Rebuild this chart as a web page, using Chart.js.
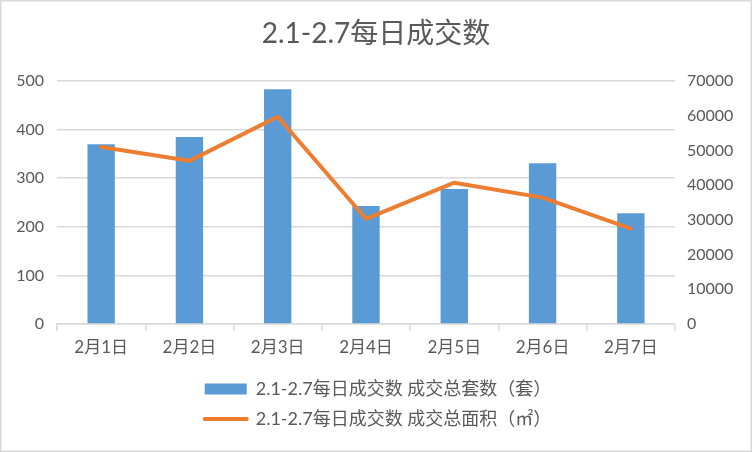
<!DOCTYPE html>
<html>
<head>
<meta charset="utf-8">
<script src="https://cdn.jsdelivr.net/npm/chart.js@4/dist/chart.umd.min.js"></script>
<style>
  html, body { margin: 0; padding: 0; background: #fff; }
  #wrap { width: 752px; height: 452px; position: relative; }
</style>
</head>
<body>
<div id="wrap"><canvas id="c" width="752" height="452"></canvas></div>
<script>
const titleText = '2.1-2.7每日成交数';
const categories = ['2月1日', '2月2日', '2月3日', '2月4日', '2月5日', '2月6日', '2月7日'];
const seriesCountName = '2.1-2.7每日成交数 成交总套数（套）';
const seriesAreaName = '2.1-2.7每日成交数 成交总面积（㎡）';
const countValues = [370, 385, 483, 243, 278, 331, 228];
const areaValues = [51000, 47000, 59700, 30300, 40700, 36400, 27500];
const leftTicks = [0, 100, 200, 300, 400, 500];
const rightTicks = [0, 10000, 20000, 30000, 40000, 50000, 60000, 70000];

const FONT = "Lato, 'Noto Sans CJK SC', sans-serif";
const TEXT = '#595959';
const GRID = '#d9d9d9';
const BLUE = '#5b9bd5';
const ORANGE = '#ed7d31';

const borderPlugin = {
  id: 'outerBorder',
  afterDraw(chart) {
    const ctx = chart.ctx;
    ctx.save();
    ctx.strokeStyle = '#d9d9d9';
    ctx.lineWidth = 1.5;
    ctx.strokeRect(0.75, 0.75, chart.width - 1.5, chart.height - 1.5);
    ctx.restore();
  },
  beforeDraw(chart) {
    const ctx = chart.ctx;
    ctx.save();
    ctx.fillStyle = '#fff';
    ctx.fillRect(0, 0, chart.width, chart.height);
    ctx.restore();
  }
};

const legendShift = {
  id: 'legendShift',
  afterLayout(chart) {
    if (chart.legend) {
      chart.legend.left += 12;
      chart.legend.right += 12;
    }
  }
};

new Chart(document.getElementById('c'), {
  type: 'bar',
  data: {
    labels: categories,
    datasets: [
      {
        type: 'bar',
        label: seriesCountName,
        data: countValues,
        backgroundColor: BLUE,
        borderWidth: 0,
        yAxisID: 'y',
        order: 2,
        barPercentage: 0.31,
        categoryPercentage: 1
      },
      {
        type: 'line',
        label: seriesAreaName,
        data: areaValues,
        borderColor: ORANGE,
        backgroundColor: ORANGE,
        borderWidth: 4,
        borderCapStyle: 'round',
        borderJoinStyle: 'round',
        pointRadius: 0,
        pointHoverRadius: 0,
        tension: 0,
        yAxisID: 'y1',
        order: 1
      }
    ]
  },
  options: {
    responsive: false,
    animation: false,
    devicePixelRatio: 1,
    layout: { padding: { left: 0, right: 0, top: 0, bottom: 14 } },
    plugins: {
      tooltip: { enabled: false },
      title: {
        display: true,
        text: titleText,
        color: TEXT,
        font: { family: FONT, size: 28, weight: 'normal' },
        padding: { top: 17, bottom: 30.4 }
      },
      legend: {
        display: true,
        position: 'bottom',
        fullSize: false,
        labels: {
          color: TEXT,
          font: { family: FONT, size: 18 },
          usePointStyle: true,
          pointStyleWidth: 42,
          boxHeight: 11,
          padding: 12,
          generateLabels(chart) {
            return chart.data.datasets.map((ds, i) => ({
              text: ds.label,
              fillStyle: ds.type === 'line' ? ORANGE : BLUE,
              strokeStyle: ds.type === 'line' ? ORANGE : BLUE,
              lineWidth: ds.type === 'line' ? 4 : 0,
              lineCap: ds.type === 'line' ? 'round' : 'butt',
              pointStyle: ds.type === 'line' ? 'line' : 'rect',
              fontColor: TEXT,
              hidden: false,
              datasetIndex: i
            }));
          }
        }
      }
    },
    scales: {
      x: {
        offset: true,
        grid: {
          display: true,
          offset: true,
          drawOnChartArea: false,
          drawTicks: true,
          tickLength: 7,
          color: GRID,
          lineWidth: 1.5
        },
        border: { display: true, color: GRID, width: 1.5 },
        ticks: {
          color: TEXT,
          font: { family: FONT, size: 17 },
          padding: 6,
          maxRotation: 0
        },
        afterFit(scale) { scale.height = 44; }
      },
      y: {
        position: 'left',
        min: 0,
        max: 500,
        afterBuildTicks(scale) { scale.ticks = leftTicks.map(v => ({ value: v })); },
        grid: { color: GRID, lineWidth: 1.5, drawTicks: false },
        border: { display: false },
        ticks: {
          color: TEXT,
          font: { family: FONT, size: 16 },
          padding: 13
        },
        afterFit(scale) { scale.width = 57; }
      },
      y1: {
        position: 'right',
        min: 0,
        max: 70000,
        afterBuildTicks(scale) { scale.ticks = rightTicks.map(v => ({ value: v })); },
        grid: { display: false, drawTicks: false },
        border: { display: false },
        ticks: {
          color: TEXT,
          font: { family: FONT, size: 16 },
          padding: 12,
          callback: v => String(v)
        },
        afterFit(scale) { scale.width = 77; }
      }
    }
  },
  plugins: [borderPlugin, legendShift]
});
</script>
</body>
</html>
